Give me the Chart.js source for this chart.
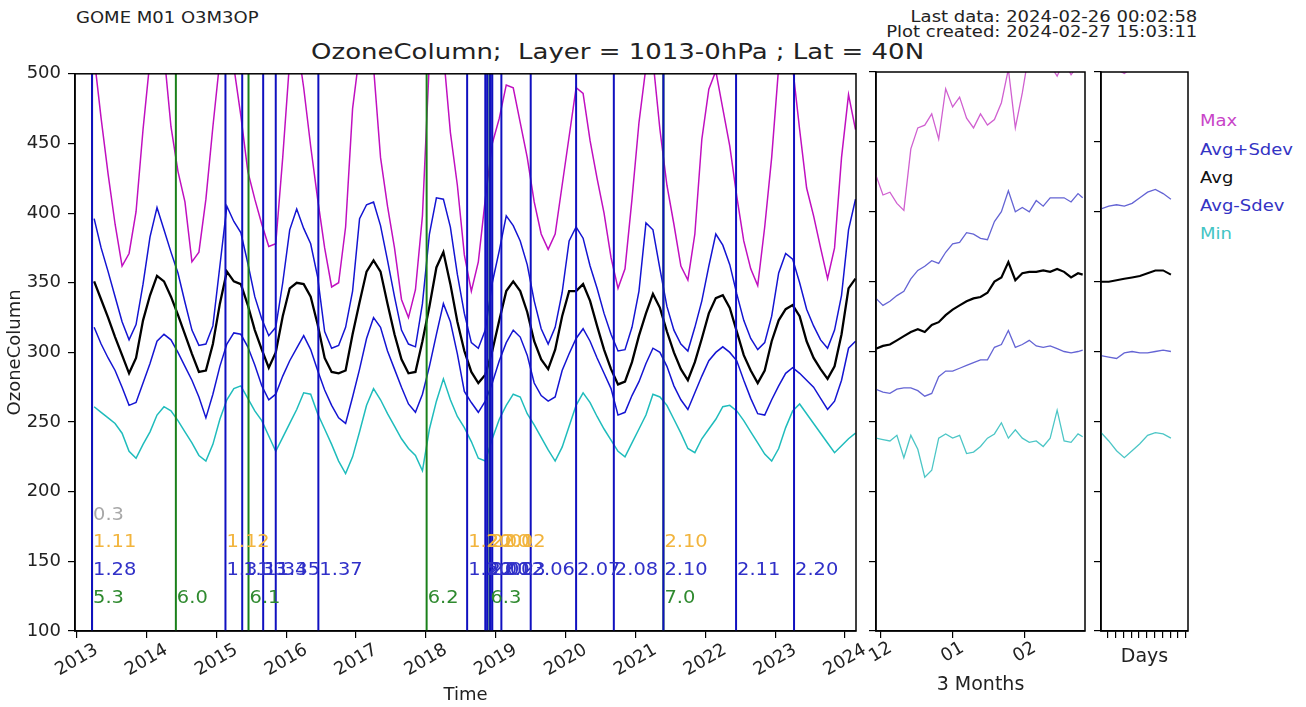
<!DOCTYPE html>
<html>
<head>
<meta charset="utf-8">
<script src="https://cdn.jsdelivr.net/npm/chart.js@4.4.1/dist/chart.umd.min.js"></script>
<style>
body{margin:0;background:#fff;}
#wrap{position:relative;width:1306px;height:707px;font-family:'DejaVu Sans',sans-serif;overflow:hidden;background:#fff}
canvas{position:absolute}
.t{position:absolute;white-space:nowrap;color:#222}
.lg{position:absolute;left:1200px;font-size:15px;line-height:18px;white-space:nowrap;transform:scaleX(1.2);transform-origin:left center}
</style>
</head>
<body>
<div id="wrap">
  <div class="t" style="left:76px;top:9px;font-size:15px;line-height:18px;transform:scaleX(1.2);transform-origin:left center">GOME M01 O3M3OP</div>
  <div class="t" style="right:109px;top:10px;font-size:15px;line-height:15px;text-align:right;transform:scaleX(1.2);transform-origin:right center">Last data: 2024-02-26 00:02:58<br>Plot created: 2024-02-27 15:03:11</div>
  <div class="t" style="left:0;width:1235px;top:38px;font-size:22px;line-height:28px;text-align:center;transform:scaleX(1.18);transform-origin:617px center">OzoneColumn;&nbsp; Layer = 1013-0hPa ; Lat = 40N</div>
  <canvas id="main" width="866" height="651" style="left:0;top:56px"></canvas>
  <canvas id="months" width="230" height="647" style="left:866px;top:60px"></canvas>
  <canvas id="days" width="106" height="647" style="left:1091px;top:60px"></canvas>
  <div class="lg" style="top:112px;color:#c844c8">Max</div>
  <div class="lg" style="top:141px;color:#3434c4">Avg+Sdev</div>
  <div class="lg" style="top:169px;color:#111">Avg</div>
  <div class="lg" style="top:197px;color:#3434c4">Avg-Sdev</div>
  <div class="lg" style="top:225px;color:#44c4c4">Min</div>
</div>
<script>
// ---- main panel: time in decimal years ----
const years = [
  2013.25,2013.35,2013.45,2013.55,2013.65,2013.75,2013.85,2013.95,
  2014.05,2014.15,2014.25,2014.35,2014.45,2014.55,2014.65,2014.75,2014.85,2014.95,
  2015.05,2015.15,2015.25,2015.35,2015.45,2015.55,2015.65,2015.75,2015.85,2015.95,
  2016.05,2016.15,2016.25,2016.35,2016.45,2016.55,2016.65,2016.75,2016.85,2016.95,
  2017.05,2017.15,2017.25,2017.35,2017.45,2017.55,2017.65,2017.75,2017.85,2017.95,
  2018.05,2018.15,2018.25,2018.35,2018.45,2018.55,2018.65,2018.75,2018.85,2018.95,
  2019.05,2019.15,2019.25,2019.35,2019.45,2019.55,2019.65,2019.75,2019.85,2019.95,
  2020.05,2020.15,2020.25,2020.35,2020.45,2020.55,2020.65,2020.75,2020.85,2020.95,
  2021.05,2021.15,2021.25,2021.35,2021.45,2021.55,2021.65,2021.75,2021.85,2021.95,
  2022.05,2022.15,2022.25,2022.35,2022.45,2022.55,2022.65,2022.75,2022.85,2022.95,
  2023.05,2023.15,2023.25,2023.35,2023.45,2023.55,2023.65,2023.75,2023.85,2023.95,
  2024.05,2024.15];
const maxVals = [
  512,468,428,392,362,371,401,460,
  510,525,515,462,430,408,365,372,410,462,
  510,525,505,470,430,410,392,376,378,440,
  510,525,490,448,410,375,347,350,390,475,
  515,530,505,440,405,375,338,325,345,398,
  510,530,515,458,420,370,344,365,410,450,
  468,492,490,465,440,408,385,374,385,420,
  455,490,486,452,425,400,368,346,360,410,
  465,505,510,460,420,392,362,352,385,453,
  489,502,475,448,412,380,360,348,390,440,
  505,520,505,460,418,398,375,353,375,440,
  485,460];
const avgPlus = [
  396,375,358,340,322,309,320,349,
  383,404,388,372,357,336,316,305,306,319,
  362,405,394,386,364,340,324,312,318,350,
  388,403,389,378,354,315,303,305,318,344,
  396,406,408,391,366,340,316,306,304,335,
  385,411,410,390,356,328,307,303,316,350,
  373,398,391,380,363,337,317,306,318,343,
  380,390,382,362,346,328,313,301,302,318,
  344,393,388,360,333,316,306,301,318,337,
  362,385,377,363,342,323,310,302,307,326,
  357,371,367,350,331,319,309,303,316,341,
  388,410];
const avgVals = [
  351,338,325,311,298,285,296,323,
  341,355,351,340,327,313,299,286,287,306,
  335,358,351,349,334,316,302,289,300,326,
  346,350,349,340,320,296,286,285,287,313,
  336,358,366,358,335,313,295,285,286,308,
  333,361,372,349,322,301,286,278,284,301,
  323,344,351,344,329,308,295,288,302,326,
  344,344,349,337,319,302,288,277,279,293,
  312,328,342,332,315,300,288,280,293,310,
  328,339,341,332,315,298,287,278,287,308,
  323,331,334,326,308,296,288,281,290,313,
  346,353];
const avgMinus = [
  318,306,296,287,275,262,264,278,
  292,308,313,309,300,290,280,268,253,270,
  290,306,314,313,304,291,276,266,270,283,
  294,303,312,302,287,273,262,253,249,268,
  288,310,325,318,301,288,275,263,257,270,
  290,313,335,322,299,272,264,257,265,278,
  294,307,316,311,298,278,269,265,268,287,
  299,310,317,308,296,285,274,255,257,269,
  279,292,303,300,290,276,266,259,271,283,
  294,300,304,300,294,280,267,256,255,266,
  276,285,289,285,280,275,267,259,265,280,
  303,308];
const minVals = [
  261,257,253,249,242,229,224,234,
  243,255,261,258,251,243,235,226,222,234,
  252,266,274,276,267,258,251,240,229,239,
  249,259,271,270,256,245,234,222,213,225,
  243,262,274,266,256,247,238,231,226,215,
  245,265,281,266,254,246,236,224,222,238,
  252,262,270,268,256,248,239,230,222,232,
  247,262,271,264,254,245,237,229,225,235,
  245,255,270,268,262,252,242,231,228,238,
  245,252,261,262,258,251,243,235,227,222,
  231,246,258,263,256,249,242,235,228,233,
  238,242];

const yearTicks = [2013,2014,2015,2016,2017,2018,2019,2020,2021,2022,2023,2024];
const yearLabels = ['2013','2014','2015','2016','2017','2018','2019','2020','2021','2022','2023','2024'];
const yTicks = [100,150,200,250,300,350,400,450,500];

// processor / version changes
const blueLines = [2013.22,2015.13,2015.37,2015.67,2015.85,2016.46,2018.59,2018.85,2018.88,2018.92,2018.95,2019.08,2019.50,2020.15,2020.69,2021.40,2022.44,2023.27];
const greenLines = [2013.22,2014.42,2015.46,2018.01,2018.91,2021.40];

const grayYears = [2013.22];
const grayTexts = ['0.3'];
const orangeYears = [2013.22,2015.13,2018.59,2018.85,2018.92,2019.08,2021.40];
const orangeTexts = ['1.11','1.12','1.20','2.00','2.01','2.02','2.10'];
const blueYears = [2013.22,2015.13,2015.37,2015.67,2015.85,2016.46,2018.59,2018.85,2018.88,2018.92,2019.08,2019.50,2020.15,2020.69,2021.40,2022.44,2023.27];
const blueTexts = ['1.28','1.31','1.33','1.34','1.35','1.37','1.50','2.00','2.01','2.02','2.03','2.06','2.07','2.08','2.10','2.11','2.20'];
const greenYears = [2013.22,2014.42,2015.46,2018.01,2018.91,2021.40];
const greenTexts = ['5.3','6.0','6.1','6.2','6.3','7.0'];

// ---- 3 months panel: days from 2023-12-01 ----
const mDays  = [-2,1,4,7,10,13,16,19,22,25,28,31,34,37,40,43,46,49,52,55,58,61,64,67,70,73,76,79,82,85,87];
const mMax   = [426,412,414,406,401,445,460,462,470,452,488,475,482,467,460,470,462,466,478,502,460,485,515,520,512,505,497,508,498,505,500];
const mPlus  = [338,333,336,340,343,352,358,361,365,363,371,377,378,385,384,381,380,393,400,415,400,403,400,408,404,410,410,410,407,413,410];
const mAvg   = [302,304,305,308,311,314,316,314,319,321,326,330,333,336,338,339,342,350,353,364,351,356,357,357,358,357,359,357,353,356,355];
const mMinus = [273,271,270,273,274,274,272,268,270,282,286,286,288,290,292,294,294,303,305,315,303,305,308,304,303,304,302,300,299,300,301];
const mMin   = [238,237,236,240,224,240,230,210,215,238,241,238,240,227,228,232,238,241,249,238,244,238,235,236,232,238,258,236,235,241,239];
const monthTicks = [0,31,62];
const monthLabels = ['12','01','02'];

// ---- days panel ----
const dDays  = [0,1,2,3,4,5,6,7,8,9];
const dMax   = [515,508,502,499,503,512,520,525,518,515];
const dPlus  = [402,404,405,404,406,410,414,416,413,409];
const dAvg   = [350,350,351,352,353,354,356,358,358,355];
const dMinus = [297,296,295,299,300,299,299,300,301,300];
const dMin   = [242,236,229,224,229,234,240,242,241,238];
const dayTicks = [0.9,1.9,2.9,3.9,4.9,5.9,6.9,7.9,8.9,9.9,10.9];

Chart.defaults.font.family = "'DejaVu Sans', sans-serif";
Chart.defaults.font.size = 18;
Chart.defaults.color = '#222';

function pts(xs, ys) { return xs.map((x, i) => ({x: x, y: ys[i]})); }
function vlines(xs) {
  const out = [];
  xs.forEach(x => { out.push({x: x, y: 100}, {x: x, y: 500}, {x: x, y: null}); });
  return out;
}
function series(label, xs, ys, color, w) {
  return {label: label, data: pts(xs, ys), borderColor: color, borderWidth: w,
          pointRadius: 0, fill: false, tension: 0, order: 3};
}

// closes the box on top and right like matplotlib spines
const frame = {
  id: 'frame',
  afterDraw(chart) {
    const a = chart.chartArea, ctx = chart.ctx;
    ctx.save();
    ctx.strokeStyle = '#000';
    ctx.lineWidth = 1.5;
    ctx.strokeRect(a.left, a.top, a.right - a.left, a.bottom - a.top);
    ctx.restore();
  }
};

// x tick labels rotated 30 deg and centred under the tick (matplotlib style)
const rotLabels = {
  id: 'rotLabels',
  afterDraw(chart, args, opts) {
    if (!opts.values) return;
    const sc = chart.scales.x, ctx = chart.ctx;
    const a = 30 * Math.PI / 180;
    ctx.save();
    ctx.font = opts.size + "px 'DejaVu Sans'";
    ctx.fillStyle = '#222';
    ctx.textAlign = 'center';
    ctx.textBaseline = 'middle';
    opts.values.forEach((v, i) => {
      const txt = opts.labels[i];
      const w = ctx.measureText(txt).width, h = opts.size * 0.73;
      const bh = w * Math.sin(a) + h * Math.cos(a);
      ctx.save();
      ctx.translate(sc.getPixelForValue(v), chart.chartArea.bottom + opts.gap + bh / 2);
      ctx.rotate(-a);
      ctx.fillText(txt, 0, 0);
      ctx.restore();
    });
    ctx.restore();
  }
};

const versionText = {
  id: 'versionText',
  afterDatasetsDraw(chart) {
    const xs = chart.scales.x, ys = chart.scales.y, ctx = chart.ctx;
    const rows = [
      [grayYears, grayTexts, 180, '#a8a8a8'],
      [orangeYears, orangeTexts, 160, '#f2b43c'],
      [blueYears, blueTexts, 140, '#3030c8'],
      [greenYears, greenTexts, 120, '#2f8a2f']
    ];
    ctx.save();
    ctx.font = "18px 'DejaVu Sans'";
    ctx.textBaseline = 'alphabetic';
    ctx.textAlign = 'left';
    rows.forEach(r => {
      ctx.fillStyle = r[3];
      r[0].forEach((yr, i) => {
        ctx.save();
        ctx.translate(xs.getPixelForValue(yr) + 1, ys.getPixelForValue(r[2]));
        ctx.scale(1.08, 1);
        ctx.fillText(r[1][i], 0, 0);
        ctx.restore();
      });
    });
    ctx.restore();
  }
};

function yAxis(width, showLabels, title) {
  return {
    min: 100, max: 500,
    afterBuildTicks: s => { s.ticks = yTicks.map(v => ({value: v})); },
    afterFit: s => { s.width = width; },
    ticks: {display: showLabels, padding: 7},
    grid: {drawOnChartArea: false, tickLength: 7, color: '#000', lineWidth: 1.2},
    border: {color: '#000', width: 1.5},
    title: title ? {display: true, text: title, font: {size: 18}, padding: {top: 5}} : {display: false}
  };
}
function xAxis(min, max, ticks, title, pad, size) {
  return {
    type: 'linear', min: min, max: max,
    afterBuildTicks: s => { s.ticks = ticks.map(v => ({value: v})); },
    afterFit: s => { s.height = 76; },
    ticks: {display: false},
    grid: {drawOnChartArea: false, tickLength: 7, color: '#000', lineWidth: 1.2},
    border: {color: '#000', width: 1.5},
    title: {display: true, text: title, font: {size: size}, padding: {bottom: pad}}
  };
}
const base = {responsive: false, animation: false, devicePixelRatio: 1};

new Chart(document.getElementById('main'), {
  type: 'line',
  data: {
    datasets: [
      series('Max', years, maxVals, '#c010c0', 1.5),
      series('Avg+Sdev', years, avgPlus, '#1414d2', 1.5),
      series('Avg', years, avgVals, '#000000', 2.3),
      series('Avg-Sdev', years, avgMinus, '#1414d2', 1.5),
      series('Min', years, minVals, '#1fbcbc', 1.5),
      {label: 'green', data: vlines(greenLines), borderColor: '#1a801a', borderWidth: 2, pointRadius: 0, spanGaps: false, order: 2},
      {label: 'blue', data: vlines(blueLines), borderColor: '#1010c0', borderWidth: 2, pointRadius: 0, spanGaps: false, order: 1}
    ]
  },
  options: Object.assign({}, base, {
    layout: {padding: {left: 0, top: 12, right: 10, bottom: 0}},
    plugins: {legend: {display: false}, tooltip: {enabled: false},
              rotLabels: {values: yearTicks, labels: yearLabels, size: 18, gap: 12}},
    scales: {
      x: xAxis(2012.976, 2024.157, yearTicks, 'Time', 1, 18),
      y: yAxis(75, true, 'OzoneColumn')
    }
  }),
  plugins: [frame, versionText, rotLabels]
});

new Chart(document.getElementById('months'), {
  type: 'line',
  data: {
    datasets: [
      series('Max', mDays, mMax, '#d060d0', 1.3),
      series('Avg+Sdev', mDays, mPlus, '#6464d4', 1.3),
      series('Avg', mDays, mAvg, '#000000', 2.2),
      series('Avg-Sdev', mDays, mMinus, '#6464d4', 1.3),
      series('Min', mDays, mMin, '#4cc6c6', 1.3)
    ]
  },
  options: Object.assign({}, base, {
    layout: {padding: {left: 0, top: 12, right: 11, bottom: 0}},
    plugins: {legend: {display: false}, tooltip: {enabled: false},
              rotLabels: {values: monthTicks, labels: monthLabels, size: 18, gap: 10}},
    scales: {
      x: xAxis(-2, 88, monthTicks, '3 Months', 11, 19),
      y: yAxis(10, false, null)
    }
  }),
  plugins: [frame, rotLabels]
});

new Chart(document.getElementById('days'), {
  type: 'line',
  data: {
    datasets: [
      series('Max', dDays, dMax, '#d060d0', 1.3),
      series('Avg+Sdev', dDays, dPlus, '#6464d4', 1.3),
      series('Avg', dDays, dAvg, '#000000', 2),
      series('Avg-Sdev', dDays, dMinus, '#6464d4', 1.3),
      series('Min', dDays, dMin, '#4cc6c6', 1.3)
    ]
  },
  options: Object.assign({}, base, {
    layout: {padding: {left: 0, top: 12, right: 9, bottom: 0}},
    plugins: {legend: {display: false}, tooltip: {enabled: false}},
    scales: {
      x: xAxis(0, 11.2, dayTicks, 'Days', 39, 19),
      y: yAxis(10, false, null)
    }
  }),
  plugins: [frame]
});
</script>
</body>
</html>
